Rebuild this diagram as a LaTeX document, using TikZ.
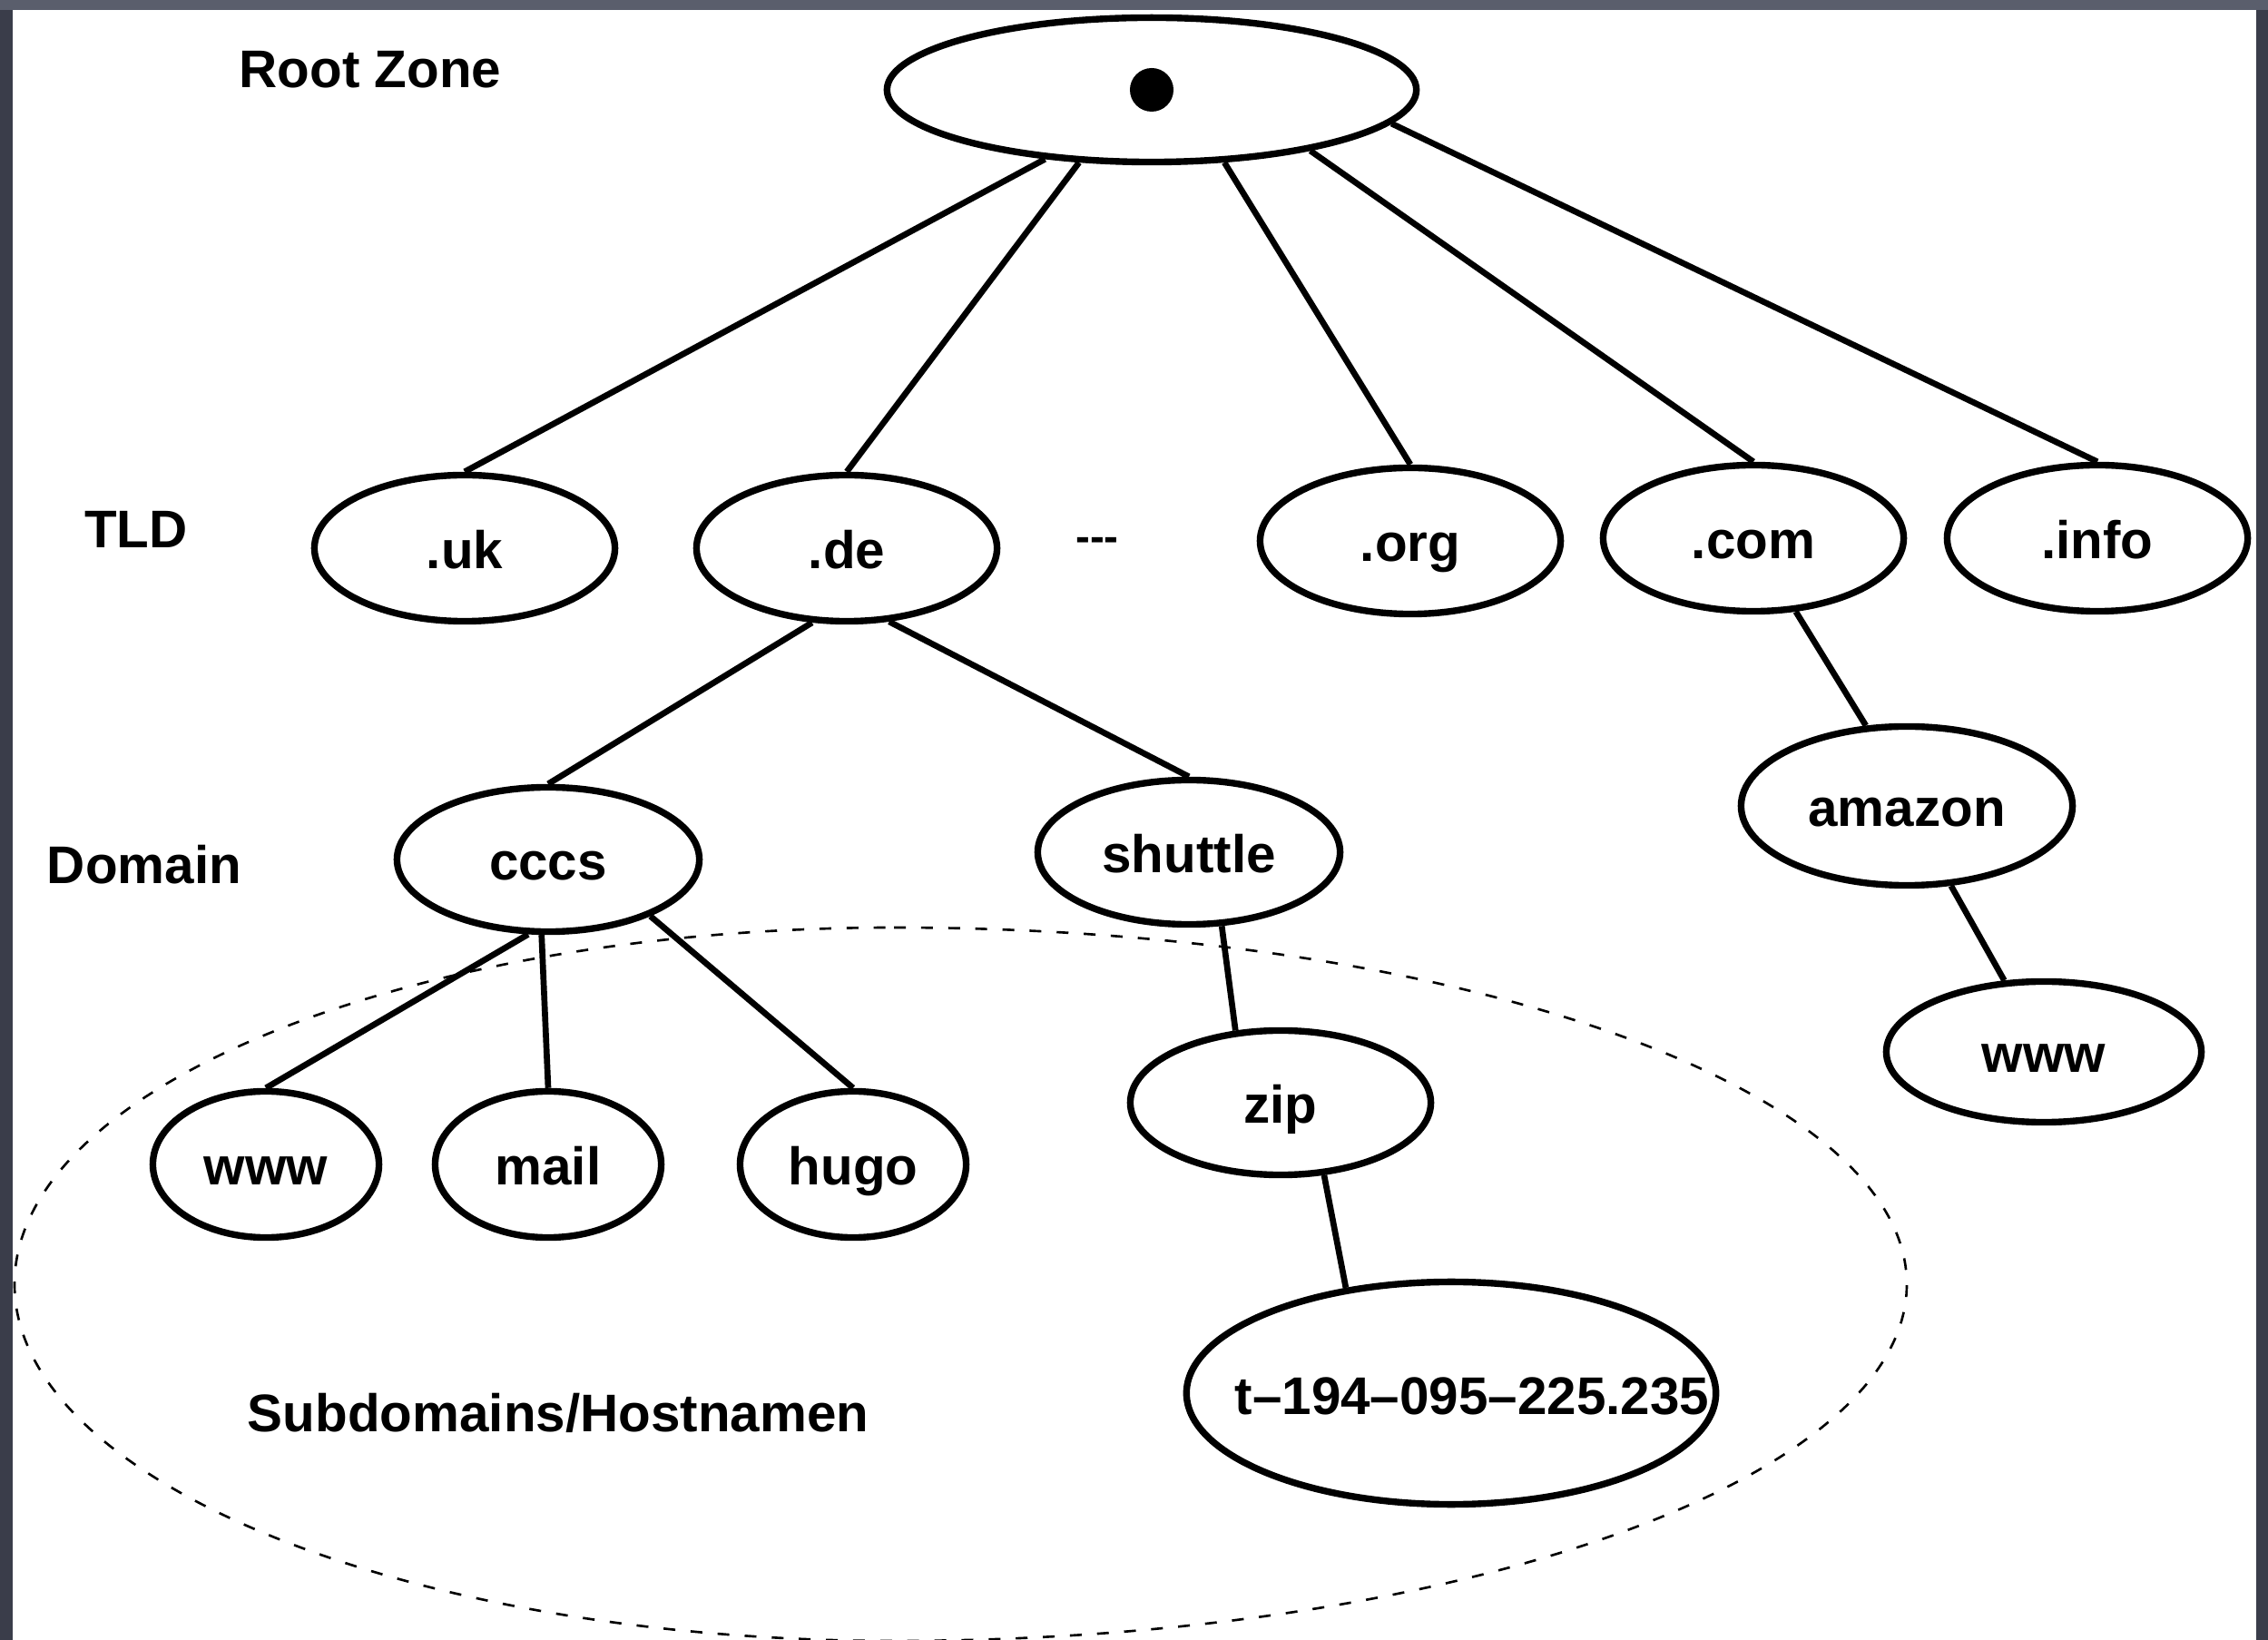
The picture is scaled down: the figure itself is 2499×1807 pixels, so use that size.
\documentclass[tikz,border=0pt]{standalone}
\usepackage{fontspec}
\setmainfont{Liberation Sans}
\usetikzlibrary{shapes.geometric}
\definecolor{framecol}{RGB}{58,61,74}
\definecolor{frametop}{RGB}{90,94,108}
\begin{document}
\begin{tikzpicture}[x=0.01cm, y=-0.01cm,
  txt/.style={font=\bfseries\fontsize{16.6}{20}\selectfont, inner sep=0pt},
  oval/.style 2 args={ellipse, draw, line width=2.1pt, inner sep=0pt,
    minimum width=#1, minimum height=#2, text height=0.48cm, text depth=0.04cm,
    font=\bfseries\fontsize{16.6}{20}\selectfont},
  link/.style={line width=1.9pt},
  zone/.style={line width=0.75pt, dash pattern=on 3.7pt off 4.8pt}]
\useasboundingbox (0,0) rectangle (2499,1807);
% frame
\fill[framecol] (0,0) rectangle (2499,1807);
\fill[frametop] (0,0) rectangle (2499,11);
\fill[white] (14,11) rectangle (2486,1807);

% dashed zone
\coordinate (zt) at (985,1022);
\coordinate (zr) at (2101,1415);
\coordinate (zb) at (985,1808);
\coordinate (zl) at (16,1415);
\draw[zone] (zt) .. controls (1601,1022) and (2101,1198) .. (zr)
  .. controls (2101,1632) and (1601,1808) .. (zb)
  .. controls (450,1808) and (16,1632) .. (zl)
  .. controls (16,1198) and (450,1022) .. (zt) -- cycle;

% level labels
\node[txt] (lroot) at (408,77) {Root Zone};
\node[txt] (ltld) at (150,583) {TLD};
\node[txt] (ldom) at (159,953) {Domain};
\node[txt] (lsub) at (615,1557) {Subdomains/Hostnamen};

% root
\node[oval={5.83cm}{1.59cm}] (root) at (1269,99) {};
\node[circle, fill, inner sep=0pt, minimum size=0.48cm] (dot) at (root.center) {};

% TLDs
\node[oval={3.31cm}{1.61cm}] (uk) at (512,604) {.uk};
\node[oval={3.31cm}{1.61cm}] (de) at (933,604) {.de};
\node[txt, font=\bfseries\fontsize{13.5}{16}\selectfont] (dots) at (1209,600) {-{}-{}-};
\node[oval={3.31cm}{1.61cm}] (org) at (1554,596) {.org};
\node[oval={3.31cm}{1.61cm}] (com) at (1932,593) {.com};
\node[oval={3.31cm}{1.61cm}] (info) at (2311,593) {.info};

% domains
\node[oval={3.33cm}{1.59cm}] (cccs) at (604,947) {cccs};
\node[oval={3.33cm}{1.59cm}] (shuttle) at (1310,939) {shuttle};
\node[oval={3.65cm}{1.75cm}] (amazon) at (2101,888) {amazon};

% subdomains
\node[oval={2.49cm}{1.61cm}] (www) at (293,1283) {www};
\node[oval={2.49cm}{1.61cm}] (mail) at (604,1283) {mail};
\node[oval={2.49cm}{1.61cm}] (hugo) at (940,1283) {hugo};
\node[oval={3.31cm}{1.59cm}] (zip) at (1411,1215) {zip};
\node[oval={3.47cm}{1.55cm}] (www2) at (2252,1159) {www};
\node[oval={5.83cm}{2.45cm}] (host) at (1599,1535) {};
\node[txt] (hosttxt) at (1622,1538) {t\textendash194\textendash095\textendash225.235};

% connectors
\draw[link] (root.213) -- (uk.north);
\draw[link] (root.225) -- (de.north);
\draw[link] (root.315.5) -- (org.north);
\draw[link] (root.339.7) -- (com.north);
\draw[link] (root.352) -- (info.north);
\draw[link] (de.245) -- (cccs.north);
\draw[link] (de.300.6) -- (shuttle.north);
\draw[link] (com.300.3) -- (amazon.117);
\draw[link] (amazon.299) -- (www2.119);
\draw[link] (cccs.255) -- (www.north);
\draw[link] (cccs.265) -- (mail.north);
\draw[link] (cccs.331) -- (hugo.north);
\draw[link] (shuttle.294) -- (zip.122);
\draw[link] (zip.301) -- (host.135);
\end{tikzpicture}
\end{document}
